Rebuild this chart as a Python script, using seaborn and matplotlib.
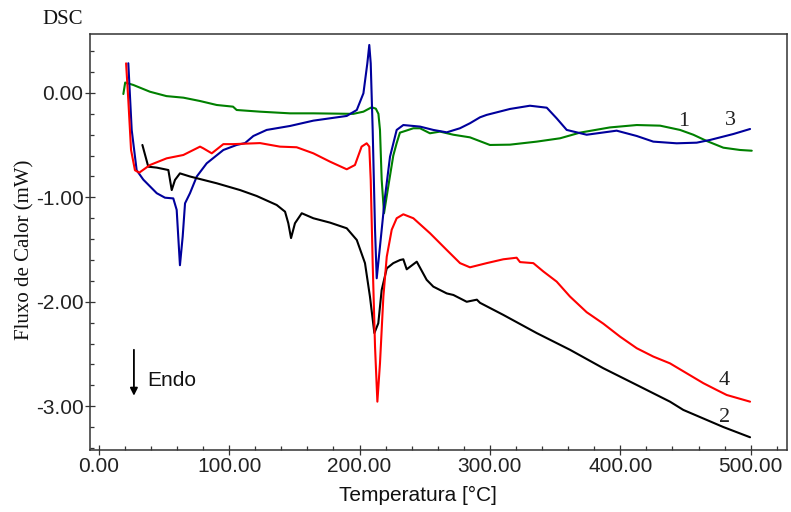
import numpy as np
import pandas as pd
import matplotlib
matplotlib.use("Agg")
import matplotlib.pyplot as plt
import seaborn as sns
from matplotlib.ticker import MultipleLocator, FormatStrFormatter

# ---- data ----
temp_1 = [18.9, 20.3, 26.5, 39.3, 52, 65, 77.7, 90.5, 103, 105.8, 123.7, 146.7, 164.6, 195.2, 203,
          209.3, 212.5, 214.5, 215.7, 217, 218.8, 222, 225.9, 228.5, 231, 236, 241.3, 246.4, 254,
          261.7, 272, 284.7, 300, 315.4, 335.9, 353.8, 369, 392, 412.6, 430.5, 445.8, 456, 466.3,
          479, 491.8, 500.8]
flux_1 = [-0.01, 0.10, 0.077, 0.012, -0.03, -0.045, -0.077, -0.115, -0.131, -0.163, -0.179, -0.195,
          -0.195, -0.2, -0.179, -0.137, -0.15, -0.2, -0.354, -0.83, -1.152, -0.9, -0.6, -0.48, -0.38,
          -0.36, -0.338, -0.338, -0.386, -0.37, -0.40, -0.425, -0.498, -0.495, -0.466, -0.434, -0.38,
          -0.33, -0.307, -0.313, -0.354, -0.40, -0.46, -0.524, -0.546, -0.553]

temp_2 = [33.5, 36.8, 38, 44.5, 53.4, 56, 58.5, 62.3, 70, 90.5, 108.4, 121.2, 136.5, 142.9, 145.4,
          147.5, 150.5, 155.7, 164.6, 177.4, 190.2, 197.9, 204.2, 208, 211.4, 214.4, 217, 220.9,
          225.9, 231.1, 233.6, 236.2, 243.9, 251.5, 256.6, 266.9, 272, 282.2, 290, 292.4, 310.3,
          335.9, 361.4, 387, 412.6, 438.1, 448.3, 479, 499.5]
flux_2 = [-0.498, -0.65, -0.706, -0.715, -0.738, -0.93, -0.833, -0.77, -0.80, -0.865, -0.93, -0.987,
          -1.073, -1.137, -1.248, -1.39, -1.248, -1.152, -1.2, -1.242, -1.296, -1.408, -1.63, -1.95,
          -2.30, -2.206, -1.887, -1.68, -1.63, -1.60, -1.593, -1.689, -1.616, -1.79, -1.855, -1.92,
          -1.935, -2.0, -1.98, -2.01, -2.126, -2.30, -2.46, -2.637, -2.797, -2.957, -3.036, -3.2,
          -3.298]

temp_3 = [22.7, 25.3, 29.1, 34.2, 44.5, 50.8, 57.2, 59.8, 61, 62.3, 64.4, 66.2, 70, 75.2, 82.8,
          95.6, 105.8, 112.2, 118.6, 128.8, 146.7, 164.6, 190.2, 197.9, 203, 206, 207.5, 208.6,
          210.1, 211.9, 213.2, 215.7, 219.6, 223.4, 228.5, 233.6, 246.4, 256.6, 266.9, 277, 284.7,
          292.4, 297.5, 315.4, 330.7, 343.6, 351.2, 358.9, 374.2, 397.2, 412.6, 425.3, 443.2, 458.6,
          468.8, 486.7, 499.5]
flux_3 = [0.285, -0.354, -0.74, -0.83, -0.96, -1.003, -1.01, -1.12, -1.376, -1.65, -1.376, -1.057,
          -0.96, -0.80, -0.674, -0.546, -0.498, -0.48, -0.412, -0.354, -0.316, -0.265, -0.22, -0.163,
          -0.003, 0.284, 0.46, 0.284, -0.354, -1.31, -1.775, -1.47, -0.99, -0.61, -0.354, -0.307,
          -0.322, -0.354, -0.377, -0.338, -0.29, -0.233, -0.21, -0.153, -0.122, -0.141, -0.243,
          -0.354, -0.40, -0.361, -0.412, -0.466, -0.482, -0.476, -0.45, -0.393, -0.345]

temp_4 = [21, 22.7, 24.8, 27.8, 31.1, 39.3, 52.1, 64.9, 77.7, 80.2, 86.7, 95.6, 103, 123.7, 139,
          151.8, 164.6, 177.4, 190.2, 196.5, 201.6, 205.5, 207.5, 208.6, 210.1, 211.9, 213.7, 215.7,
          218.3, 220.9, 224.7, 228.5, 233.6, 241.3, 254.1, 266.9, 277.1, 284.7, 297.5, 310.3, 320.5,
          323.1, 333.3, 341, 351.2, 361.4, 374.2, 387, 399.8, 412.6, 425.3, 438.1, 450.9, 463.7,
          473.9, 481.6, 499.5]
flux_4 = [0.284, -0.067, -0.546, -0.74, -0.763, -0.69, -0.626, -0.594, -0.514, -0.53, -0.578, -0.49,
          -0.49, -0.48, -0.514, -0.52, -0.578, -0.658, -0.731, -0.69, -0.514, -0.482, -0.514, -0.833,
          -1.63, -2.43, -2.957, -2.59, -1.95, -1.568, -1.31, -1.2, -1.162, -1.2, -1.344, -1.504,
          -1.63, -1.67, -1.63, -1.593, -1.578, -1.62, -1.63, -1.71, -1.807, -1.95, -2.10, -2.21,
          -2.334, -2.445, -2.525, -2.59, -2.685, -2.78, -2.845, -2.893, -2.957]

series_names = ["1", "2", "3", "4"]
series_colors = ["#008000", "#000000", "#00009c", "#ff0000"]
draw_order = ["1", "3", "2", "4"]

frames = []
for name, t, f in zip(series_names, [temp_1, temp_2, temp_3, temp_4],
                      [flux_1, flux_2, flux_3, flux_4]):
    frames.append(pd.DataFrame({"Temperatura": t, "Fluxo": f, "Amostra": name}))
df = pd.concat(frames, ignore_index=True)

sns.set_theme(style="ticks")
plt.rcParams["axes.unicode_minus"] = False
plt.rcParams["font.family"] = ["Liberation Sans", "DejaVu Sans"]

W, H = 791, 512
fig = plt.figure(figsize=(W / 100, H / 100), dpi=100)
ax = fig.add_axes([89.5 / W, 1 - 450 / H, (786.7 - 89.5) / W, (450 - 34) / H])

sns.lineplot(data=df, x="Temperatura", y="Fluxo", hue="Amostra", hue_order=draw_order,
             palette=dict(zip(series_names, series_colors)), sort=False, estimator=None,
             linewidth=1.5, legend=False, ax=ax)

ax.set_xlim(-7.06, 527.6)
ax.set_ylim(-3.42, 0.565)
ax.set_xlabel("")
ax.set_ylabel("")

ax.xaxis.set_major_locator(MultipleLocator(100))
ax.xaxis.set_minor_locator(MultipleLocator(20))
ax.yaxis.set_major_locator(MultipleLocator(1))
ax.yaxis.set_minor_locator(MultipleLocator(0.2))
ax.xaxis.set_major_formatter(FormatStrFormatter("%.2f"))
ax.yaxis.set_major_formatter(FormatStrFormatter("%.2f"))

ax.tick_params(which="both", bottom=True, left=True, top=False, right=False)
ax.tick_params(which="major", direction="inout", length=6.5, width=0.9, color="#333333",
               labelsize=15, pad=2)
ax.tick_params(which="minor", direction="in", length=3.2, width=0.9, color="#333333")
ax.tick_params(axis="y", which="major", pad=1)
for lab in ax.get_xticklabels() + ax.get_yticklabels():
    lab.set_color("#222222")

for s in ax.spines.values():
    s.set_visible(True)
    s.set_color("#333333")
    s.set_linewidth(1.1)

serif = ["Liberation Serif", "DejaVu Serif"]

# curve labels
for txt, tx, ty in [("1", 448.9, -0.275), ("3", 484.2, -0.268), ("4", 479.6, -2.754), ("2", 479.6, -3.112)]:
    ax.text(tx, ty, txt, family=serif, fontsize=16, ha="center", va="center", color="#222222")

# Endo arrow
ax.annotate("", xy=(27, -2.90), xytext=(27, -2.46),
            arrowprops=dict(arrowstyle="-|>", color="black", lw=1.3, mutation_scale=11,
                            shrinkA=0, shrinkB=0))
ax.text(37, -2.754, "Endo", fontsize=15, ha="left", va="center", color="#111111")

fig.text(63 / W, 1 - 19 / H, "DSC", family=serif, fontsize=15, ha="center", va="center",
         color="#111111")
fig.text(25 / W, 1 - 250 / H, "Fluxo de Calor (mW)", family=serif, fontsize=15, rotation=90,
         ha="center", va="center", color="#111111")
fig.text(418 / W, 1 - 495 / H, "Temperatura [°C]", fontsize=15, ha="center", va="center",
         color="#111111")

fig.savefig("out.png", dpi=100, facecolor="white")
